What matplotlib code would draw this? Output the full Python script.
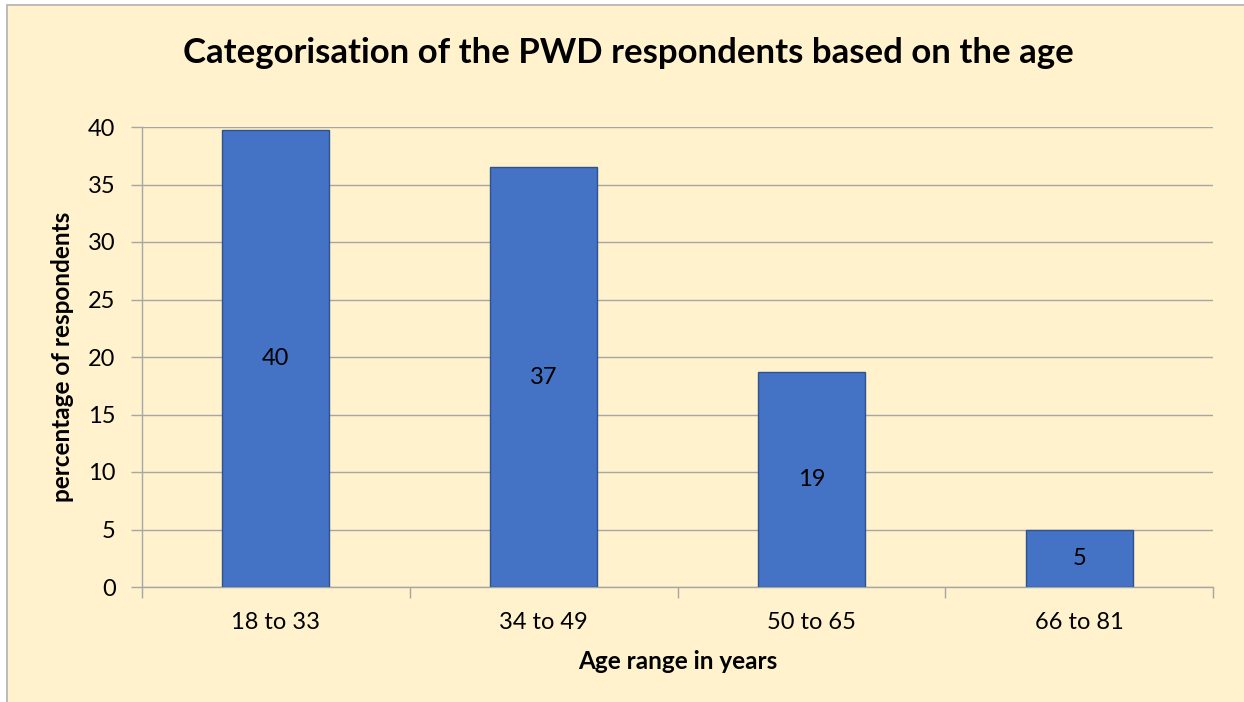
import matplotlib

matplotlib.use("Agg")
import matplotlib.pyplot as plt
import numpy as np
from matplotlib.patches import Rectangle

categories = ["18 to 33", "34 to 49", "50 to 65", "66 to 81"]
values = [39.7, 36.5, 18.7, 5.0]
labels = ["40", "37", "19", "5"]
yticks = [0, 5, 10, 15, 20, 25, 30, 35, 40]

BG = "#FFF2CC"
BAR = "#4472C4"
EDGE = "#2F528F"
GRID = "#A6A6A6"

plt.rcParams["font.family"] = ["Lato", "DejaVu Sans"]

fig = plt.figure(figsize=(12.44, 7.02), dpi=100)
fig.patch.set_facecolor("white")
# chart area background; border only shows on top and left
fig.patches.append(Rectangle((7 / 1244, -0.01), 1.01, 1 - 5 / 702 + 0.01,
                             transform=fig.transFigure, facecolor=BG,
                             edgecolor="#B0B0B0", linewidth=1.2, zorder=-10))

ax = fig.add_axes([142 / 1244, 1 - 587 / 702, (1213 - 142) / 1244, (587 - 127) / 702])
ax.patch.set_alpha(0)

x = np.arange(len(categories))
bars = ax.bar(x, values, width=0.40, color=BAR, edgecolor=EDGE, linewidth=1.0, zorder=3)
for b, lab in zip(bars, labels):
    ax.text(b.get_x() + b.get_width() / 2, b.get_height() / 2, lab,
            ha="center", va="center", fontsize=17, color="black", zorder=4)

ax.set_xlim(-0.5, len(categories) - 0.5)
ax.set_ylim(0, 40)
ax.set_yticks(yticks)
ax.set_yticklabels([str(t) for t in yticks], fontsize=17)
ax.yaxis.grid(True, color=GRID, linewidth=1.0, zorder=0)
ax.set_axisbelow(True)

ax.set_xticks(x)
ax.set_xticklabels(categories, fontsize=17)
ax.tick_params(axis="x", length=0, pad=18)
ax.set_xticks(np.arange(len(categories) + 1) - 0.5, minor=True)
ax.tick_params(axis="x", which="minor", length=8, color=GRID, width=1.0)
ax.tick_params(axis="y", length=8, color=GRID, width=1.0, pad=11)

for s in ["top", "right"]:
    ax.spines[s].set_visible(False)
ax.spines["left"].set_color(GRID)
ax.spines["bottom"].set_color(GRID)
ax.spines["left"].set_linewidth(1.0)
ax.spines["bottom"].set_linewidth(1.0)

ax.set_xlabel("Age range in years", fontsize=17.5, fontweight="bold", labelpad=12)
ax.set_ylabel("percentage of respondents", fontsize=17.5, fontweight="bold", labelpad=10)

fig.text(0.505, 1 - 53 / 702, "Categorisation of the PWD respondents based on the age",
         ha="center", va="center", fontsize=25, fontweight="bold")

fig.savefig("out.png", dpi=100, facecolor=fig.get_facecolor())
